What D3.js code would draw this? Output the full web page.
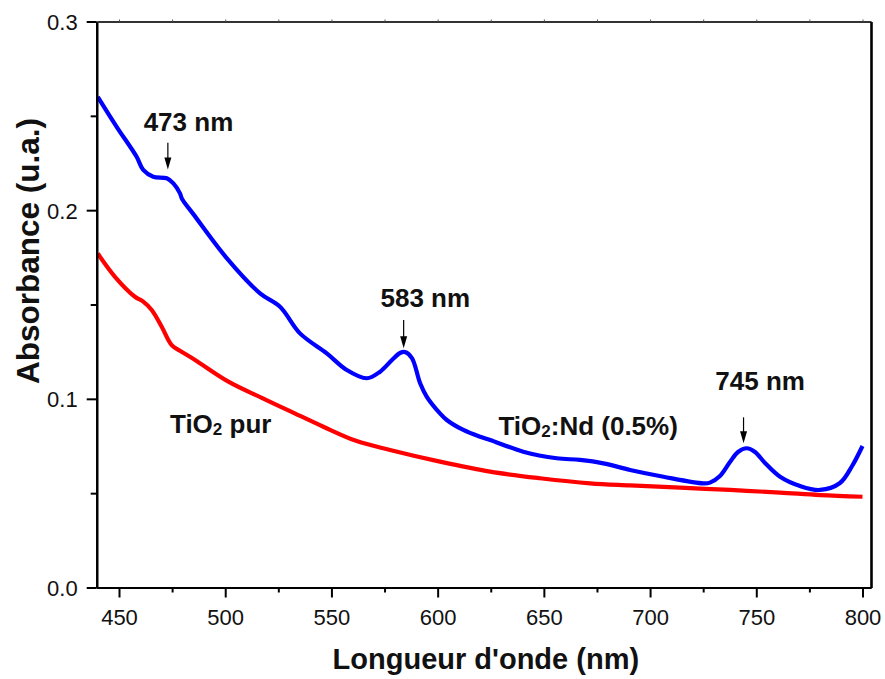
<!DOCTYPE html>
<html>
<head>
<meta charset="utf-8">
<script src="https://cdn.jsdelivr.net/npm/d3@7/dist/d3.min.js"></script>
<style>
  html, body { margin: 0; padding: 0; background: #fff; }
  svg { display: block; font-family: "Liberation Sans", Arial, sans-serif; }
</style>
</head>
<body>
<svg id="chart" width="885" height="679"></svg>
<script>
// ---- data ----
const wavelengthNd = [440, 448.9, 458.3, 461.4, 466.1, 472.5, 475.6, 478.7, 479.7, 485.0, 500.7, 516.4, 525.8, 535.2, 547.8, 557.2, 566.6, 572.9, 578.5, 582.3, 584.6, 587.9, 591.7, 594.9, 601.1, 604.3, 612.1, 620.0, 624.7, 640.3, 656.1, 667.0, 678.0, 690.6, 706.3, 725.1, 728.2, 732.9, 737.6, 741.4, 745.5, 749.4, 754.1, 761.2, 770.6, 780.0, 789.4, 795.1, 800];
const absorbanceNd = [0.2601, 0.2442, 0.2283, 0.2213, 0.2177, 0.2169, 0.2142, 0.2089, 0.2059, 0.1979, 0.1746, 0.1559, 0.1488, 0.1347, 0.1241, 0.1153, 0.1109, 0.1144, 0.1206, 0.1243, 0.1248, 0.1216, 0.1084, 0.1011, 0.0923, 0.0888, 0.0835, 0.0799, 0.0782, 0.0720, 0.0685, 0.0676, 0.0658, 0.0623, 0.0587, 0.0552, 0.0556, 0.0591, 0.0665, 0.0718, 0.0738, 0.0718, 0.0660, 0.0587, 0.0538, 0.0517, 0.0554, 0.0644, 0.0750];

const wavelengthPur = [440, 448.1, 457.5, 461.4, 465.4, 470.1, 474.8, 478.7, 485.8, 501.5, 517.2, 530.5, 546.2, 561.9, 577.6, 601.1, 624.7, 648.2, 671.7, 690.6, 714.1, 737.7, 761.2, 780.0, 800];
const absorbancePur = [0.1770, 0.1647, 0.1541, 0.1515, 0.1471, 0.1382, 0.1285, 0.1255, 0.1206, 0.1091, 0.1005, 0.0935, 0.0852, 0.0776, 0.0729, 0.0667, 0.0614, 0.0579, 0.0552, 0.0541, 0.0529, 0.0517, 0.0503, 0.0490, 0.0481];

const xTicks = [450, 500, 550, 600, 650, 700, 750, 800];
const xMinorTicks = [475, 525, 575, 625, 675, 725, 775];
const yTicks = [0.0, 0.1, 0.2, 0.3];
const yMinorTicks = [0.05, 0.15, 0.25];

const peakLabels = ["473 nm", "583 nm", "745 nm"];
const peakWavelengths = [473, 584, 744];

// ---- layout ----
const margin = { left: 96.7, right: 885 - 871, top: 21.5, bottom: 679 - 587.5 };
const W = 885, H = 679;
const svg = d3.select("#chart");

const x = d3.scaleLinear().domain([439.5, 804]).range([margin.left, W - margin.right]);
const y = d3.scaleLinear().domain([0, 0.3]).range([H - margin.bottom, margin.top]);

const fmtY = d3.format(".1f");

// curves
const line = d3.line().x(d => x(d[0])).y(d => y(d[1])).curve(d3.curveCatmullRom.alpha(0.5));
const ndData = wavelengthNd.map((w, i) => [w, absorbanceNd[i]]);
const purData = wavelengthPur.map((w, i) => [w, absorbancePur[i]]);

svg.append("path").datum(purData).attr("d", line)
  .attr("fill", "none").attr("stroke", "#ff0000").attr("stroke-width", 4.2).attr("stroke-linejoin", "round");
svg.append("path").datum(ndData).attr("d", line)
  .attr("fill", "none").attr("stroke", "#0000ff").attr("stroke-width", 4.2).attr("stroke-linejoin", "round");

// axes
const gx = svg.append("g").attr("transform", `translate(0,${y(0)})`)
  .call(d3.axisBottom(x).tickValues(xTicks).tickSize(10).tickPadding(12).tickSizeOuter(0));
const gxm = svg.append("g").attr("transform", `translate(0,${y(0)})`)
  .call(d3.axisBottom(x).tickValues(xMinorTicks).tickSize(5).tickFormat("").tickSizeOuter(0));
const gy = svg.append("g").attr("transform", `translate(${x(439.5)},0)`)
  .call(d3.axisLeft(y).tickValues(yTicks).tickFormat(fmtY).tickSize(10).tickPadding(9).tickSizeOuter(0));
const gym = svg.append("g").attr("transform", `translate(${x(439.5)},0)`)
  .call(d3.axisLeft(y).tickValues(yMinorTicks).tickSize(6).tickFormat("").tickSizeOuter(0));
const gt = svg.append("g").attr("transform", `translate(0,${y(0.3)})`)
  .call(d3.axisTop(x).tickValues(xTicks.concat(xMinorTicks)).tickSize(2).tickFormat("").tickSizeOuter(0));
const gr = svg.append("g").attr("transform", `translate(${x(804)},0)`)
  .call(d3.axisRight(y).tickValues([]).tickSizeOuter(0));

[gx, gxm, gy, gym].forEach(g => {
  g.select(".domain").attr("stroke", "#000").attr("stroke-width", 2.2);
  g.selectAll(".tick line").attr("stroke", "#000").attr("stroke-width", 2);
  g.selectAll(".tick text").attr("fill", "#111").style("font-size", "22px")
    .style("font-family", "'Liberation Sans', Arial, sans-serif");
});
gt.select(".domain").attr("stroke", "#333").attr("stroke-width", 1.8);
gt.selectAll(".tick line").attr("stroke", "#555").attr("stroke-width", 1);
gr.select(".domain").attr("stroke", "#000").attr("stroke-width", 2.6);
gy.selectAll(".tick text").attr("dy", "0.36em");

// axis titles
svg.append("text")
  .attr("x", (x(439.5) + x(804)) / 2 + 2).attr("y", 669)
  .attr("text-anchor", "middle").attr("font-weight", "bold").attr("font-size", 29).attr("fill", "#111")
  .text("Longueur d'onde (nm)");
svg.append("text")
  .attr("transform", `translate(39,${251}) rotate(-90)`)
  .attr("text-anchor", "middle").attr("font-weight", "bold").attr("font-size", 31.5).attr("fill", "#111")
  .text("Absorbance (u.a.)");

// peak annotations (label center, baseline; arrow top, tip)
const peakLayout = [
  { tx: 482.7, ty: 0.2421, aTop: 0.2357, aTip: 0.2216 },
  { tx: 594.2, ty: 0.1485, aTop: 0.1418, aTip: 0.1268 },
  { tx: 751.8, ty: 0.1047, aTop: 0.0902, aTip: 0.0764 }
];
peakLabels.forEach((lab, i) => {
  const p = peakLayout[i];
  svg.append("text").attr("x", x(p.tx)).attr("y", y(p.ty))
    .attr("text-anchor", "middle").attr("font-weight", "bold").attr("font-size", 26).attr("fill", "#111")
    .text(lab);
  const ax = x(peakWavelengths[i]);
  const yTop = y(p.aTop), yTip = y(p.aTip);
  svg.append("line").attr("x1", ax).attr("x2", ax).attr("y1", yTop).attr("y2", yTip - 8)
    .attr("stroke", "#000").attr("stroke-width", 1.2);
  svg.append("path")
    .attr("d", `M${ax - 3.5},${yTip - 12} L${ax + 3.5},${yTip - 12} L${ax},${yTip} Z`)
    .attr("fill", "#000");
});

// series labels
function seriesLabel(xv, yv, parts) {
  const t = svg.append("text").attr("x", x(xv)).attr("y", y(yv))
    .attr("font-weight", "bold").attr("font-size", 26).attr("fill", "#111");
  parts.forEach(p => {
    const s = t.append("tspan").text(p.t);
    if (p.sub) s.attr("font-size", 17).attr("dy", 2);
    else if (p.after) s.attr("dy", -2);
  });
}
seriesLabel(474.0, 0.0817, [{ t: "TiO" }, { t: "2", sub: true }, { t: " pur", after: true }]);
seriesLabel(628.6, 0.0808, [{ t: "TiO" }, { t: "2", sub: true }, { t: ":Nd (0.5%)", after: true }]);
</script>
</body>
</html>
